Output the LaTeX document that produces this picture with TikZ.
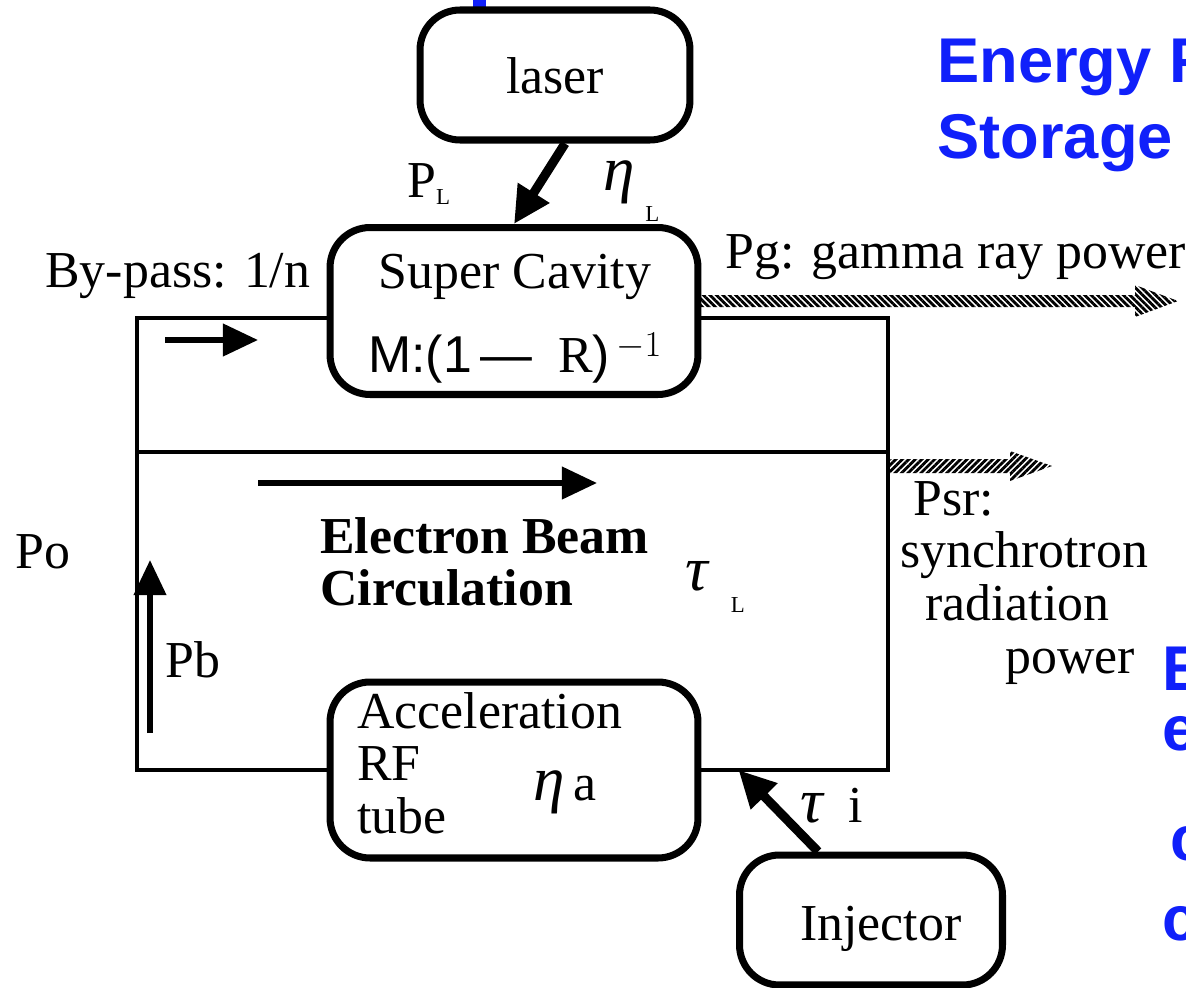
\documentclass[tikz,border=0pt]{standalone}
\usepackage{fontspec}
\setmainfont{Liberation Serif}
\setsansfont{Liberation Sans}
\usetikzlibrary{arrows.meta,patterns.meta,calc}
\definecolor{slideblue}{RGB}{16,32,250}
\newcommand{\lowL}[1]{\raisebox{-#1}{\fontsize{13}{13}\selectfont L}}
\newcommand{\grk}[1]{{\fontsize{36}{40}\selectfont\itshape #1}}

\begin{document}
\begin{tikzpicture}[x=0.02cm,y=-0.02cm,
  every node/.style={font=\fontsize{29.5}{34}\selectfont,inner sep=0pt},
  txt/.style={anchor=base west},
  box/.style={draw,line width=4pt,rounded corners=0.8cm},
  beamline/.style={line width=2.8pt},
  bigarrow/.style={line width=5.2pt,-{Triangle[length=21pt,width=20pt]}},
  smallarrow/.style={line width=3.2pt,-{Triangle[length=20pt,width=18pt]}},
  hatch/.style={pattern={Lines[angle=-45,distance=2.6pt,line width=1.6pt]}},
  blue title/.style={anchor=base west,text=slideblue,font=\fontsize{36}{40}\selectfont\sffamily\bfseries}]
\useasboundingbox (0,0) rectangle (1186,987);
\clip (0,0) rectangle (1186,987);
\fill[slideblue] (473,0) rectangle (486,12);
\node[box,minimum width=5.4cm,minimum height=2.6cm] (laser) at (555,75) {};
\node[box,minimum width=7.36cm,minimum height=3.34cm] (cav) at (514,311) {};
\node[box,minimum width=7.36cm,minimum height=3.52cm] (acc) at (514,770) {};
\node[box,minimum width=5.26cm,minimum height=2.6cm] (inj) at (871,920) {};
\node[anchor=base] at (555,93) {laser};
\node[anchor=base] at (515,288) {Super Cavity};
\node[txt] at (368,372) {{\sffamily M:(1\,\textemdash\enspace}R{\sffamily)$^{\,-1}$}};
\node[txt] at (357,728) {Acceleration};
\node[txt] at (357,780) {RF};
\node[txt] at (357,833) {tube};
\node[txt] at (533,800) {\grk{η}\,a};
\node[txt] at (800,940) {Injector};
\coordinate (tl) at (137,318);
\coordinate (tr) at (888,318);
\coordinate (bl) at (137,770);
\coordinate (br) at (888,770);
\coordinate (ml) at (137,452);
\coordinate (mr) at (888,452);
\draw[beamline] (cav.west |- tl) -- (tl) -- (bl) -- (acc.west);
\draw[beamline] (cav.east |- tr) -- (tr) -- (br) -- (acc.east);
\draw[beamline] (ml) -- (mr);
\draw[bigarrow] ($(laser.south)+(10,0)$) -- (cav.north);
\draw[bigarrow] ($(inj.north)+(-53,0)$) -- ($(acc.east)+(37,0)$);
\coordinate (bp0) at (165,340);
\coordinate (bp1) at (258,340);
\draw[smallarrow] (bp0) -- (bp1);
\coordinate (eb0) at (258,483);
\coordinate (eb1) at (597,483);
\draw[smallarrow] (eb0) -- (eb1);
\coordinate (pb0) at (150,733);
\coordinate (pb1) at (150,560);
\draw[smallarrow] (pb0) -- (pb1);
\coordinate (g0) at (698,301);
\coordinate (g1) at (1178,301);
\fill[hatch] ($(g0)+(0,-6)$) -- ($(g1)+(-43,-6)$) -- ($(g1)+(-43,-16)$) -- (g1)
  -- ($(g1)+(-43,16)$) -- ($(g1)+(-43,6)$) -- ($(g0)+(0,6)$) -- cycle;
\coordinate (s0) at (888,466);
\coordinate (s1) at (1052,466);
\fill[hatch,pattern={Lines[angle=45,distance=2.6pt,line width=1.6pt]}] ($(s0)+(0,-7)$) -- ($(s1)+(-42,-7)$) -- ($(s1)+(-42,-15)$) -- (s1)
  -- ($(s1)+(-42,15)$) -- ($(s1)+(-42,7)$) -- ($(s0)+(0,7)$) -- cycle;
\node[txt] at (407,197) {P\lowL{4.5pt}};
\node[txt] at (603,190) {\grk{η}\hspace{6pt}\lowL{18pt}};
\node[txt] at (45,287) {By-pass: 1/n};
\node[txt] at (725,268) {Pg: gamma ray power};
\node[txt,font=\fontsize{29.5}{34}\selectfont\bfseries] at (320,553) {Electron Beam};
\node[txt,font=\fontsize{29.5}{34}\selectfont\bfseries] at (320,605) {Circulation};
\node[txt] at (685,590) {\grk{τ}\hspace{13pt}\lowL{13pt}};
\node[txt] at (15,568) {Po};
\node[txt] at (165,677) {Pb};
\node[txt] at (913,515) {Psr:};
\node[txt] at (900,567) {synchrotron};
\node[txt] at (925,620) {radiation};
\node[txt] at (1005,673) {power};
\node[txt] at (800,822) {\grk{τ}\enspace i};
\node[blue title] at (937,82) {Energy F};
\node[blue title] at (937,158) {Storage};
\node[blue title] at (1162,690) {E};
\node[blue title] at (1162,750) {e};
\node[blue title] at (1170,860) {c};
\node[blue title] at (1162,940) {c};
\end{tikzpicture}
\end{document}
